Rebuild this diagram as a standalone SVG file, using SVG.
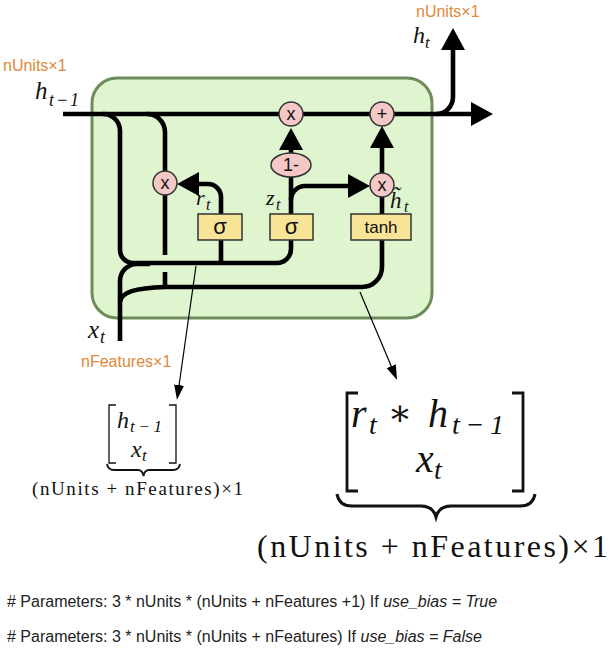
<svg xmlns="http://www.w3.org/2000/svg" width="610" height="650" viewBox="0 0 610 650">
<style>
.w{fill:none;stroke:#000;stroke-width:4.6}
.thin{fill:none;stroke:#000;stroke-width:1.2}
.op{fill:#f5c8c8;stroke:#333;stroke-width:1.5}
.gate{fill:#f8e496;stroke:#333;stroke-width:1.5}
.ot{font-family:"Liberation Sans",Arial,sans-serif;font-size:18px;fill:#111;text-anchor:middle}
.gt{font-family:"Liberation Sans",Arial,sans-serif;fill:#111;text-anchor:middle}
.m{font-family:"Liberation Serif","DejaVu Serif",serif;font-style:italic;fill:#111}
.r{font-family:"Liberation Serif","DejaVu Serif",serif;fill:#111}
.dim{font-family:"Liberation Sans",Arial,sans-serif;font-size:16px;fill:#e0883a}
.br{fill:none;stroke:#111}
.par{font-family:"Liberation Sans",Arial,sans-serif;font-size:16px;fill:#222}
</style>
<defs>
<marker id="ah" markerUnits="userSpaceOnUse" viewBox="0 0 24 24" markerWidth="24" markerHeight="24" refX="3" refY="12" orient="auto">
<path d="M0,0 L22,12 L0,24 z" fill="#000"/>
</marker>
<marker id="tah" markerUnits="userSpaceOnUse" viewBox="0 0 16 10" markerWidth="16" markerHeight="10" refX="2" refY="5" orient="auto">
<path d="M0,0 L15,5 L0,10 z" fill="#000"/>
</marker>
</defs>

<g id="cell">
<rect x="92" y="78" width="340" height="240" rx="25" ry="25" fill="#dff5d0" stroke="#6e8c5a" stroke-width="3"/>
</g>

<g id="connectors">
<path class="w" d="M63,114 L474,114" marker-end="url(#ah)"/>
<path class="w" d="M436,114 A17,17 0 0 0 453,97 L453,47" marker-end="url(#ah)"/>
<path class="w" d="M103,114 A17,17 0 0 1 120,131 L120,250 A13,13 0 0 0 133,263 L277,263 A14,14 0 0 0 291,249 L291,240"/>
<path class="w" d="M147,114 A18,18 0 0 1 165,132 L165,171"/>
<path class="w" d="M165,195 L165,255"/>
<path class="w" d="M165,272 L165,287"/>
<path class="w" d="M120,341 L120,281 A17,17 0 0 1 137,264 L150,264"/>
<path class="w" d="M120,302 C121,292 135,288 165,287 L362,287 A20,20 0 0 0 382,267 L382,240"/>
<path class="w" d="M221,240 L221,263"/>
<path class="w" d="M221,214 L221,197 A13,13 0 0 0 208,184 L196,184" marker-end="url(#ah)"/>
<path class="w" d="M291,214 L291,177"/>
<path class="w" d="M291,153 L291,147" marker-end="url(#ah)"/>
<path class="w" d="M291,200 A14,14 0 0 1 305,186 L351,186" marker-end="url(#ah)"/>
<path class="w" d="M382,214 L382,197"/>
<path class="w" d="M382,173 L382,145" marker-end="url(#ah)"/>
<path class="thin" d="M196,266 L178.8,387" marker-end="url(#tah)"/>
<path class="thin" d="M360,292 L392,368" marker-end="url(#tah)"/>
</g>

<g id="mul_h">
<circle class="op" cx="291" cy="114" r="12"/>
<text class="ot" x="291" y="120">x</text>
</g>
<g id="add_h">
<circle class="op" cx="382" cy="114" r="12"/>
<text class="ot" x="382" y="120">+</text>
</g>
<g id="mul_r">
<circle class="op" cx="165" cy="183" r="12"/>
<text class="ot" x="165" y="189">x</text>
</g>
<g id="mul_z">
<circle class="op" cx="382" cy="185" r="12"/>
<text class="ot" x="382" y="191">x</text>
</g>
<g id="one_minus">
<ellipse class="op" cx="291" cy="165" rx="20" ry="12"/>
<text class="ot" x="291" y="171">1-</text>
</g>
<g id="sigma_r">
<rect class="gate" x="198" y="214" width="44" height="26"/>
<text class="gt" x="220" y="234" font-size="22">σ</text>
</g>
<g id="sigma_z">
<rect class="gate" x="270" y="214" width="43" height="26"/>
<text class="gt" x="291.5" y="234" font-size="22">σ</text>
</g>
<g id="tanh_gate">
<rect class="gate" x="351" y="214" width="60" height="26"/>
<text class="gt" x="381" y="233" font-size="17">tanh</text>
</g>

<g id="labels">
<text class="dim" x="3" y="71">nUnits×1</text>
<text class="dim" x="416" y="17">nUnits×1</text>
<text class="dim" x="81" y="367">nFeatures×1</text>
<text class="m" x="35" y="99" font-size="25">h</text>
<text class="m" x="49" y="106" font-size="18" textLength="30">t−1</text>
<text class="m" x="413" y="43" font-size="24">h</text>
<text class="m" x="425" y="48" font-size="17">t</text>
<text class="m" x="196" y="205" font-size="22">r</text>
<text class="m" x="206" y="210" font-size="16">t</text>
<text class="m" x="266" y="205" font-size="22">z</text>
<text class="m" x="276" y="210" font-size="16">t</text>
<text class="m" x="390" y="208" font-size="23">h̃</text>
<text class="m" x="404" y="212" font-size="16">t</text>
<text class="m" x="88" y="338" font-size="25">x</text>
<text class="m" x="100" y="343" font-size="18">t</text>
</g>

<g id="concat_small">
<path class="br" stroke-width="1.3" d="M116,405 L109,405 L109,463 L116,463"/>
<path class="br" stroke-width="1.3" d="M169,405 L176,405 L176,463 L169,463"/>
<text class="m" x="117" y="428" font-size="24">h</text>
<text class="m" x="130" y="432" font-size="17" textLength="32">t−1</text>
<text class="m" x="131" y="457" font-size="24">x</text>
<text class="m" x="142" y="461" font-size="17">t</text>
<path class="br" stroke-width="1.8" d="M107,464 Q108,470 114,470 L138,470 Q142.5,470 143.5,476 Q144.5,470 149,470 L173,470 Q179,470 180,464"/>
<text class="r" x="32" y="495" font-size="19" textLength="211">(nUnits + nFeatures)×1</text>
</g>

<g id="concat_large">
<path class="br" stroke-width="2.8" d="M358,393 L347,393 L347,491 L358,491"/>
<path class="br" stroke-width="2.8" d="M512,393 L523,393 L523,491 L512,491"/>
<text class="m" x="351" y="427" font-size="40">r</text>
<text class="m" x="369" y="434" font-size="28">t</text>
<text class="r" x="400" y="425" font-size="36" text-anchor="middle">∗</text>
<text class="m" x="428" y="427" font-size="40">h</text>
<text class="m" x="452" y="434" font-size="28" textLength="52">t−1</text>
<text class="m" x="416" y="472" font-size="40">x</text>
<text class="m" x="434" y="479" font-size="28">t</text>
<path class="br" stroke-width="3" d="M337,494 Q339,506 352,506 L421,506 Q433,506 436,517 Q439,506 451,506 L520,506 Q533,506 535,494"/>
<text class="r" x="257" y="557" font-size="32" textLength="351">(nUnits + nFeatures)×1</text>
</g>

<g id="params">
<text class="par" x="7" y="607"># Parameters: 3 * nUnits * (nUnits + nFeatures +1) If <tspan font-style="italic">use_bias = True</tspan></text>
<text class="par" x="7" y="642"># Parameters: 3 * nUnits * (nUnits + nFeatures) If <tspan font-style="italic">use_bias = False</tspan></text>
</g>
</svg>
